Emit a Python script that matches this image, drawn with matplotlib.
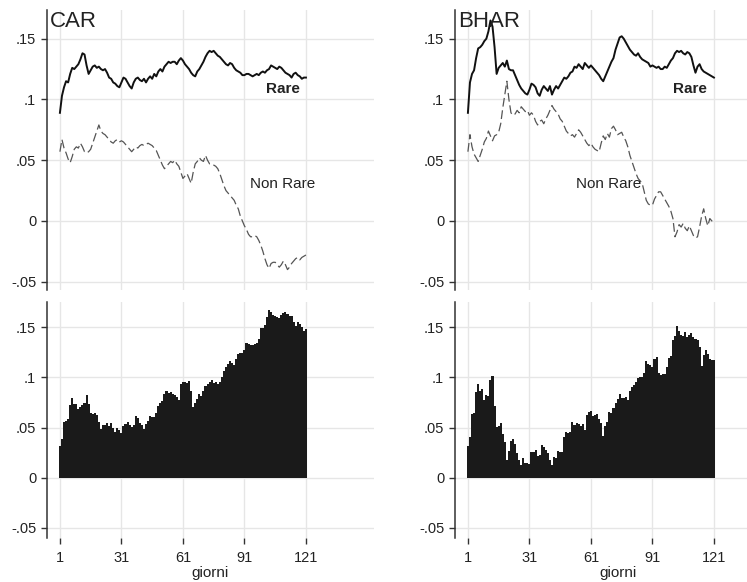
import numpy as np
import matplotlib
matplotlib.use("Agg")
import matplotlib.pyplot as plt

plt.rcParams['font.family'] = ['Liberation Sans', 'DejaVu Sans']

# giorni 1..121
days = np.arange(1, 122)

# CAR, values
car_rare = [
    .089, .103, .110, .115, .114, .121, .126, .125, .127, .129,
    .133, .138, .137, .128, .121, .124, .127, .128, .126, .127,
    .125, .124, .125, .122, .118, .117, .114, .113, .111, .110,
    .114, .118, .117, .114, .111, .109, .114, .117, .118, .116,
    .115, .117, .114, .117, .119, .117, .121, .119, .123, .125,
    .123, .127, .129, .131, .130, .131, .131, .129, .132, .134,
    .132, .129, .127, .125, .122, .120, .119, .123, .125, .128,
    .131, .135, .138, .140, .139, .140, .138, .136, .135, .133,
    .131, .129, .128, .130, .129, .126, .124, .123, .122, .120,
    .120, .121, .121, .120, .119, .120, .121, .120, .122, .123,
    .122, .124, .125, .128, .127, .126, .125, .127, .126, .124,
    .122, .121, .120, .118, .121, .122, .120, .119, .117, .118,
    .118]
car_nonrare = [
    .057, .067, .060, .056, .051, .048, .053, .059, .061, .060,
    .064, .061, .057, .056, .057, .059, .064, .069, .074, .079,
    .074, .072, .071, .069, .067, .065, .064, .066, .067, .065,
    .066, .065, .063, .061, .059, .057, .059, .061, .060, .062,
    .063, .062, .063, .064, .063, .062, .060, .058, .054, .050,
    .046, .043, .045, .047, .049, .048, .050, .047, .045, .040,
    .035, .037, .039, .035, .031, .040, .047, .049, .052, .050,
    .049, .054, .050, .047, .047, .046, .045, .043, .039, .034,
    .029, .025, .023, .021, .019, .017, .013, .010, .004, .000,
    -.004, -.007, -.011, -.013, -.013, -.012, -.013, -.016, -.020, -.025,
    -.031, -.036, -.039, -.035, -.034, -.034, -.036, -.038, -.036, -.033,
    -.036, -.040, -.038, -.035, -.033, -.031, -.030, -.032, -.030, -.029,
    -.028]
car_diff = [
    .032, .039, .056, .057, .058, .072, .079, .073, .073, .068,
    .070, .072, .074, .082, .073, .064, .063, .064, .062, .056,
    .049, .053, .053, .055, .052, .055, .050, .046, .050, .048,
    .045, .052, .054, .056, .053, .051, .053, .061, .059, .055,
    .053, .049, .054, .057, .061, .060, .060, .064, .071, .074,
    .076, .083, .086, .084, .085, .083, .082, .080, .077, .093,
    .095, .095, .094, .096, .086, .070, .074, .078, .083, .081,
    .086, .091, .093, .095, .097, .094, .095, .093, .095, .100,
    .106, .110, .113, .116, .114, .112, .118, .123, .124, .124,
    .127, .134, .133, .132, .132, .133, .134, .138, .149, .149,
    .152, .160, .167, .165, .162, .161, .160, .159, .162, .164,
    .165, .163, .161, .161, .155, .151, .155, .153, .150, .146,
    .148]

# BHAR
bhar_rare = [
    .089, .114, .121, .124, .134, .142, .143, .145, .148, .150,
    .156, .165, .160, .143, .121, .126, .128, .130, .127, .132,
    .125, .124, .124, .120, .116, .112, .109, .107, .105, .104,
    .108, .113, .112, .110, .105, .103, .108, .111, .109, .107,
    .111, .104, .108, .111, .109, .112, .115, .118, .117, .119,
    .122, .123, .127, .126, .129, .127, .125, .130, .128, .126,
    .128, .126, .124, .122, .120, .117, .115, .119, .123, .127,
    .131, .134, .141, .146, .151, .152, .150, .147, .144, .141,
    .139, .137, .136, .138, .135, .133, .132, .131, .130, .127,
    .128, .127, .126, .127, .125, .125, .127, .126, .129, .132,
    .134, .138, .140, .139, .140, .138, .137, .139, .138, .135,
    .128, .122, .127, .129, .125, .123, .122, .121, .120, .119,
    .118]
bhar_nonrare = [
    .057, .071, .061, .055, .052, .049, .054, .059, .065, .068,
    .074, .070, .066, .070, .071, .073, .080, .093, .104, .115,
    .100, .089, .087, .088, .091, .089, .094, .092, .090, .091,
    .087, .089, .087, .082, .079, .082, .083, .080, .084, .087,
    .091, .095, .092, .090, .088, .084, .082, .078, .074, .072,
    .070, .071, .069, .072, .075, .073, .070, .067, .064, .062,
    .064, .061, .059, .058, .057, .064, .070, .067, .072, .069,
    .076, .078, .075, .071, .072, .073, .069, .066, .061, .054,
    .049, .044, .039, .035, .033, .031, .024, .017, .014, .013,
    .013, .018, .021, .024, .024, .021, .018, .015, .012, .008,
    .002, -.013, -.009, -.003, -.005, -.002, -.006, -.008, -.004, -.008,
    -.012, -.014, -.013, -.005, .004, .010, .002, -.004, .002, .000,
    -.001]
bhar_diff = [
    .032, .041, .063, .064, .085, .093, .086, .088, .077, .082,
    .081, .097, .101, .071, .051, .052, .055, .044, .036, .018,
    .027, .037, .039, .034, .025, .018, .013, .020, .015, .015,
    .014, .026, .026, .028, .022, .023, .033, .031, .028, .025,
    .018, .013, .021, .020, .027, .026, .026, .041, .046, .045,
    .046, .056, .053, .055, .054, .052, .054, .048, .062, .065,
    .066, .061, .062, .063, .058, .055, .042, .052, .056, .065,
    .064, .069, .074, .078, .083, .079, .079, .080, .077, .086,
    .090, .092, .095, .099, .100, .100, .104, .116, .113, .112,
    .110, .118, .120, .104, .102, .103, .103, .110, .119, .121,
    .137, .141, .151, .146, .142, .141, .145, .140, .142, .144,
    .140, .138, .137, .130, .111, .122, .127, .123, .118, .117,
    .117]

panel_titles = ["CAR", "BHAR"]
yticks = [-.05, 0, .05, .1, .15]
ytick_labels = ["-.05", "0", ".05", ".1", ".15"]
xticks = [1, 31, 61, 91, 121]

W, H = 747, 582
fig = plt.figure(figsize=(W / 100, H / 100), dpi=100)
fig.patch.set_facecolor("white")

XLIM = (-5.3, 154.2)
grid_col = "#e6e6e6"
spine_col = "#333333"


def style(ax, ylim, bottom_ticks):
    ax.set_xlim(*XLIM)
    ax.set_ylim(*ylim)
    for s in ["top", "right", "bottom"]:
        ax.spines[s].set_visible(False)
    ax.spines["left"].set_color(spine_col)
    ax.spines["left"].set_linewidth(1.1)
    ax.set_yticks(yticks)
    ax.set_yticklabels(ytick_labels)
    ax.set_xticks(xticks)
    ax.grid(True, color=grid_col, linewidth=1.0)
    ax.set_axisbelow(True)
    ax.tick_params(axis="y", direction="out", length=4.3, width=1.0,
                   color=spine_col, labelsize=10.5, pad=3.5, colors="#222222")
    if bottom_ticks:
        ax.tick_params(axis="x", direction="out", length=4.3, width=1.0,
                       color=spine_col, labelsize=10.5, pad=5, colors="#222222")
    else:
        ax.tick_params(axis="x", length=0, labelbottom=False)


def px(x0, y0, x1, y1):
    # pixel box -> figure fraction rect
    return [x0 / W, 1 - y1 / H, (x1 - x0) / W, (y1 - y0) / H]


panels = [
    (47, car_rare, car_nonrare, car_diff, (109.8, .1084), (109.8, .0302)),
    (455, bhar_rare, bhar_nonrare, bhar_diff, (109.3, .1084), (69.8, .0302)),
]

for i, (left, rare, nonrare, diff, rare_pos, non_pos) in enumerate(panels):
    width = 327
    ax_top = fig.add_axes(px(left, 10, left + width, 290))
    style(ax_top, (-.0568, .1736), False)
    ax_top.plot(days, nonrare, color="#555555", linewidth=0.9,
                linestyle=(0, (7, 3)))
    ax_top.plot(days, rare, color="#111111", linewidth=1.4)
    ax_top.text(rare_pos[0], rare_pos[1], "Rare", ha="center", va="center",
                fontsize=11, fontweight="bold", color="#222222")
    ax_top.text(non_pos[0], non_pos[1], "Non Rare", ha="center", va="center",
                fontsize=11, color="#222222")
    ax_top.text(0.01, 0.995, panel_titles[i], transform=ax_top.transAxes,
                ha="left", va="top", fontsize=16, color="#222222")

    ax_bot = fig.add_axes(px(left, 302, left + width, 538))
    style(ax_bot, (-.06, .175), True)
    ax_bot.bar(days, diff, width=1.0, color="#1a1a1a", linewidth=0)
    ax_bot.set_xlabel("giorni", fontsize=11, labelpad=1, color="#222222")

fig.savefig("out.png", dpi=100)
